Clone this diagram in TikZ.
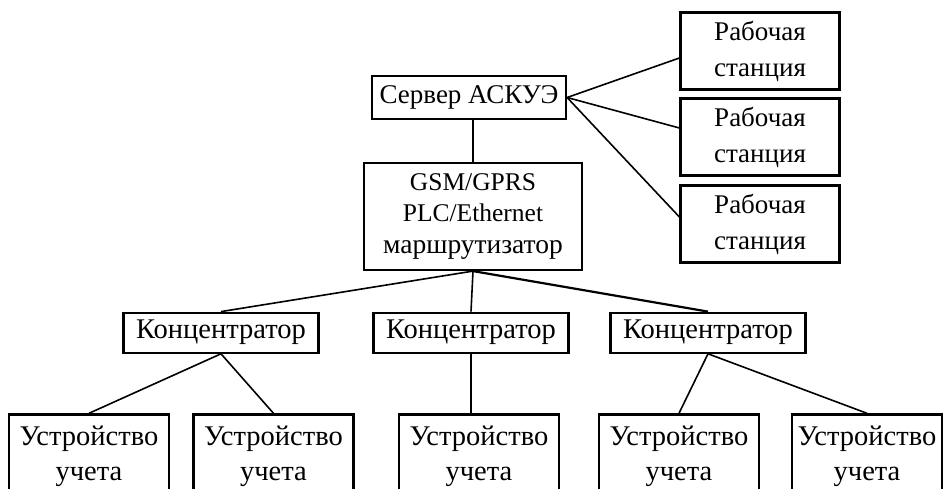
\documentclass[tikz,border=0pt]{standalone}
\usepackage{fontspec}
\setmainfont{Liberation Serif}
\begin{document}
\begin{tikzpicture}[x=1pt,y=-1pt,
  box/.style={draw, line width=2.2pt, align=center, inner sep=0pt, fill=white},
  srvbox/.style={box, minimum width=194pt, minimum height=43pt, font=\fontsize{27}{32}\selectfont},
  wsbox/.style={box, minimum width=159pt, minimum height=77pt, font=\fontsize{27}{36}\selectfont},
  rtbox/.style={box, minimum width=218pt, minimum height=107pt, font=\fontsize{27}{31.5}\selectfont},
  concbox/.style={box, minimum width=195pt, minimum height=40pt, font=\fontsize{28.5}{32}\selectfont},
  devbox/.style={box, anchor=north, minimum width=160pt, minimum height=84pt, font=\fontsize{28.5}{35}\selectfont},
  conn/.style={line width=1.6pt},
]
\useasboundingbox (0,0) rectangle (943,489);
\clip (0,0) rectangle (943,489);

\node[srvbox] (srv) at (469,97.5) {Сервер АСКУЭ};
\node[wsbox] (ws1) at (760,51) {Рабочая\\станция};
\node[wsbox] (ws2) at (760,137) {Рабочая\\станция};
\node[wsbox] (ws3) at (760,224) {Рабочая\\станция};
\node[rtbox] (rt) at (473,216.5) {\fontsize{25.5}{31.5}\selectfont GSM/GPRS\\\fontsize{25.5}{31.5}\selectfont PLC/Ethernet\\\fontsize{27.5}{31.5}\selectfont маршрутизатор};

\node[concbox] (c1) at (221,332.7) {Концентратор};
\node[concbox] (c2) at (471,332.7) {Концентратор};
\node[concbox] (c3) at (708,332.7) {Концентратор};

\node[devbox] (d1) at (89,413.3) {Устройство\\учета};
\node[devbox] (d2) at (273.5,413.3) {Устройство\\учета};
\node[devbox] (d3) at (479,413.3) {Устройство\\учета};
\node[devbox] (d4) at (679,413.3) {Устройство\\учета};
\node[devbox, minimum width=150pt] (d5) at (867,413.3) {Устройство\\учета};

\draw[conn] (rt.north) -- (rt.north |- srv.south);
\draw[conn] (srv.east) -- ([yshift=-7pt]ws1.west);
\draw[conn] (srv.east) -- ([yshift=9pt]ws2.west);
\draw[conn] (srv.east) -- ([yshift=7pt]ws3.west);

\draw[conn] (rt.south) -- (c1.north);
\draw[conn] (rt.south) -- (c2.north);
\draw[conn, line width=2.2pt] (rt.south) -- (c3.north);

\draw[conn] (c1.south) -- (d1.north);
\draw[conn] (c1.south) -- (d2.north);
\draw[conn] (c2.south) -- (c2.south |- d3.north);
\draw[conn] (c3.south) -- (d4.north);
\draw[conn] (c3.south) -- (d5.north);
\end{tikzpicture}
\end{document}
